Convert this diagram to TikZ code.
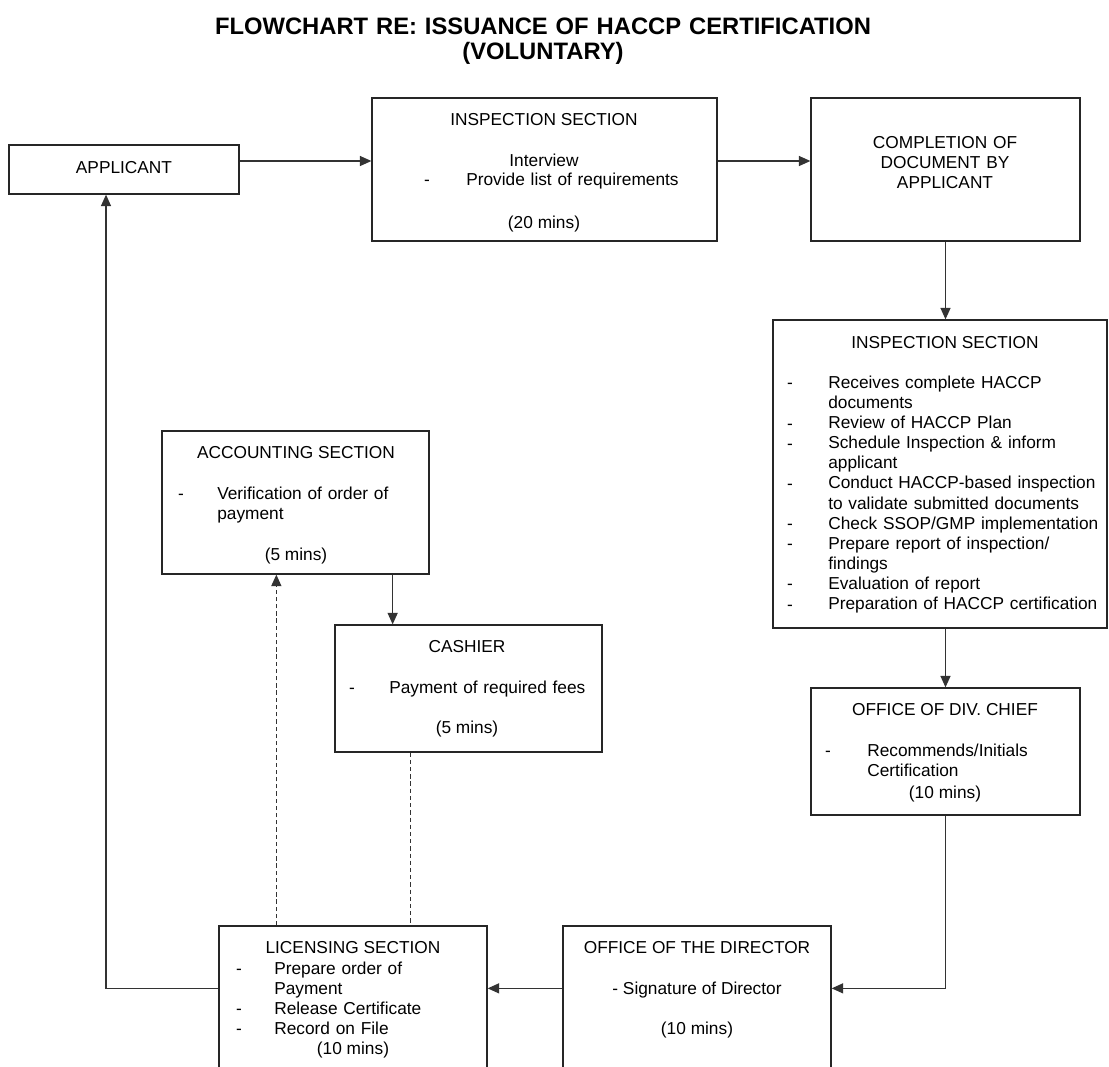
\documentclass[tikz,border=0pt]{standalone}
\usepackage{fontspec}
\setmainfont{Liberation Sans}
\usepackage{tikz}
\usetikzlibrary{arrows.meta,positioning,calc,fit}

\begin{document}
\begin{tikzpicture}[x=0.694pt,y=-0.694pt,font=\fontsize{12}{14}\selectfont,
  box/.style={draw=black!85,line width=0.9pt,inner sep=0pt},
  head/.style={anchor=base,inner sep=0pt},
  item/.style={anchor=base west,inner sep=0pt,align=left,text width=210pt},
  dashmark/.style={anchor=base,inner sep=0pt},
  flow/.style={draw=black!80,line width=0.85pt,-{Triangle[length=8pt,width=7pt]}},
  dashflow/.style={flow,dash pattern=on 3pt off 2pt},
  dashline/.style={draw=black!80,line width=0.85pt,dash pattern=on 3pt off 2pt}]
\useasboundingbox (0,0) rectangle (1109,1066);
\clip (0,0) rectangle (1109,1066);
\node[head,align=center,text width=500pt,font=\bfseries\fontsize{16.5}{18}\selectfont] (title) at (543,34) {FLOWCHART RE: ISSUANCE OF HACCP CERTIFICATION\\(VOLUNTARY)};
% Boxes in pixel units of the page, the lower two run past the page edge.
\node[box,fit={(9,145) (239,194)}] (applicant) {};
\node[head] (applicant-t) at (124,173) {APPLICANT};
\node[box,fit={(372,98) (717,241)}] (insA) {};
\node[head] (insA-h) at (544,125) {INSPECTION SECTION};
\node[head] (insA-i) at (544,166) {Interview};
\node[dashmark] (insA-d) at (427,185) {-};
\node[item] (insA-t) at (466,185) {Provide list of requirements};
\node[head] (insA-m) at (544,228) {(20 mins)};
\node[box,fit={(811,98) (1080,241)}] (compl) {};
\node[head,align=center,text width=180pt] (compl-t) at (945,148) {COMPLETION OF\\DOCUMENT BY\\APPLICANT};
\node[box,fit={(773,320) (1107,628)}] (insB) {};
\node[head] (insB-h) at (945,348) {INSPECTION SECTION};
\foreach \y [count=\i] in {388,429,449,489,529,549,589,610}
  \node[dashmark] (insB-d\i) at (790,\y) {-};
\node[item] (insB-t) at (828,388) {Receives complete HACCP\\documents\\Review of HACCP Plan\\Schedule Inspection \& inform\\applicant\\Conduct HACCP-based inspection\\to validate submitted documents\\Check SSOP/GMP implementation\\Prepare report of inspection/\\findings\\Evaluation of report\\Preparation of HACCP certification};
\node[box,fit={(811,688) (1080,815)}] (chief) {};
\node[head] (chief-h) at (945,715) {OFFICE OF DIV. CHIEF};
\node[dashmark] (chief-d) at (828,756) {-};
\node[item] (chief-t) at (867,756) {Recommends/Initials\\Certification};
\node[head] (chief-m) at (945,798) {(10 mins)};
\node[box,fit={(563,926) (831,1075)}] (director) {};
\node[head] (director-h) at (697,953) {OFFICE OF THE DIRECTOR};
\node[head] (director-t) at (697,994) {- Signature of Director};
\node[head] (director-m) at (697,1034) {(10 mins)};
\node[box,fit={(219,926) (487,1075)}] (licence) {};
\node[head] (licence-h) at (353,953) {LICENSING SECTION};
\foreach \y [count=\i] in {974,1014,1034}
  \node[dashmark] (licence-d\i) at (239,\y) {-};
\node[item] (licence-t) at (274,974) {Prepare order of\\Payment\\Release Certificate\\Record on File};
\node[head] (licence-m) at (353,1054) {(10 mins)};
\node[box,fit={(162,431) (429,574)}] (account) {};
\node[head] (account-h) at (296,458) {ACCOUNTING SECTION};
\node[dashmark] (account-d) at (181,499) {-};
\node[item] (account-t) at (217,499) {Verification of order of\\payment};
\node[head] (account-m) at (296,560) {(5 mins)};
\node[box,fit={(335,625) (602,752)}] (cashier) {};
\node[head] (cashier-h) at (467,652) {CASHIER};
\node[dashmark] (cashier-d) at (352,693) {-};
\node[item] (cashier-t) at (389,693) {Payment of required fees};
\node[head] (cashier-m) at (467,733) {(5 mins)};

\coordinate (acc-out) at ($(account.south east)+(-37,0)$);
\coordinate (lic-up) at ($(licence.north west)+(58,0)$);
\coordinate (cash-down) at ($(cashier.south west)+(76,0)$);
\draw[flow] ($(applicant.east)+(0,-8.5)$) -- ($(insA.west)+(0,-8.5)$);
\draw[flow] ($(insA.east)+(0,-8.5)$) -- ($(compl.west)+(0,-8.5)$);
\draw[flow] (compl.south) -- (compl.south |- insB.north);
\draw[flow] (chief.north |- insB.south) -- (chief.north);
\draw[flow] (chief.south) |- ($(director.north east)+(0,63)$);
\draw[flow] ($(director.north west)+(0,63)$) -- ($(licence.north east)+(0,63)$);
\draw[flow] ($(licence.north west)+(0,63)$) -| ($(applicant.south)+(-18,0)$);
\draw[flow] (acc-out) -- (acc-out |- cashier.north);
\draw[dashflow] (lic-up) -- (lic-up |- account.south);
\draw[dashline] (cash-down) -- (cash-down |- licence.north);
\end{tikzpicture}
\end{document}
